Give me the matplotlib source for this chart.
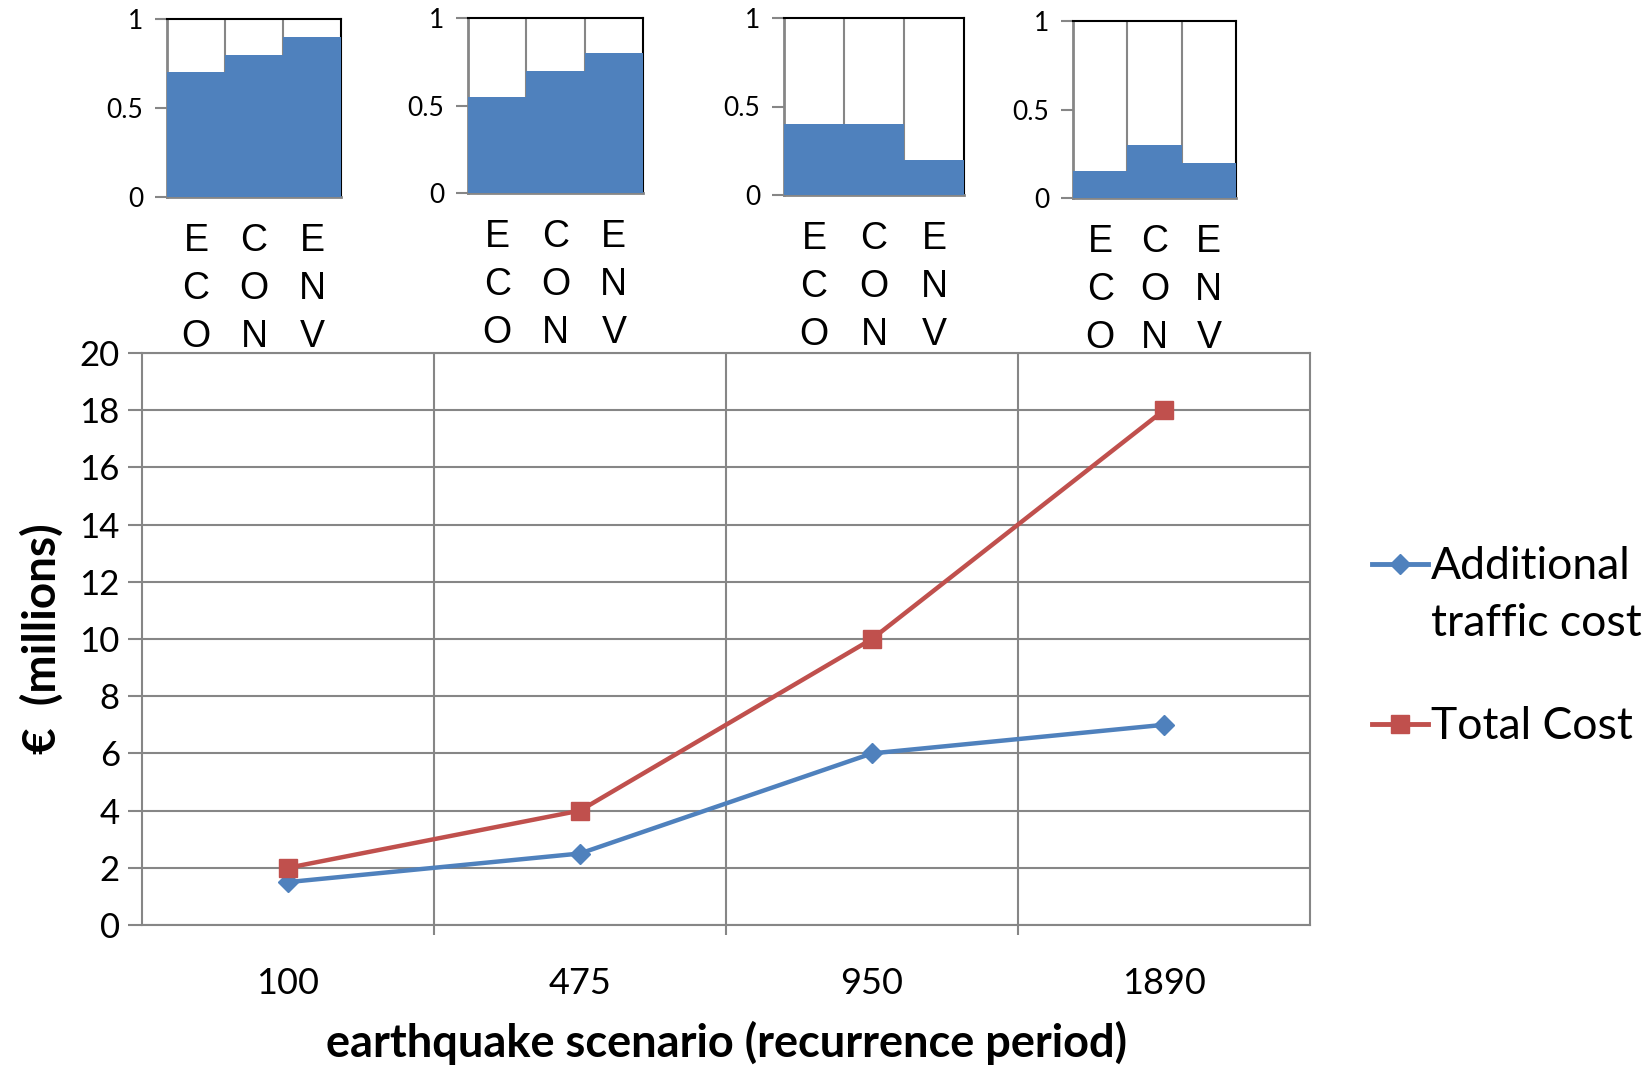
import numpy as np
import matplotlib
matplotlib.use("Agg")
import matplotlib.pyplot as plt
from matplotlib.lines import Line2D

# scenario data
scenarios = ["100", "475", "950", "1890"]
traffic_cost = [1.5, 2.5, 6.0, 7.0]
total_cost = [2.0, 4.0, 10.0, 18.0]

# share of each criterion per scenario (small bar charts on top)
criteria = ["E\nC\nO", "C\nO\nN", "E\nN\nV"]
share_100 = [0.7, 0.8, 0.9]
share_475 = [0.55, 0.7, 0.8]
share_950 = [0.4, 0.4, 0.2]
share_1890 = [0.15, 0.3, 0.2]

BLUE = "#4F81BD"
RED = "#C0504D"
GRID = "#868686"
W, H = 1652, 1067

plt.rcParams['font.family'] = ['Lato', 'DejaVu Sans']

fig = plt.figure(figsize=(W / 100, H / 100), dpi=100)


def px_box(x0, x1, y0, y1):
    # pixel box (top-left origin) -> figure fraction rect
    return [x0 / W, (H - y1) / H, (x1 - x0) / W, (y1 - y0) / H]


# main line chart
ax = fig.add_axes(px_box(142, 1310, 353, 925))
x = np.arange(len(scenarios))
ax.plot(x, traffic_cost, color=BLUE, lw=3.2, marker="D", ms=10, zorder=4)
ax.plot(x, total_cost, color=RED, lw=3.2, marker="s", ms=13, zorder=5)
ax.set_xlim(-0.5, 3.5)
ax.set_ylim(0, 20)
ax.set_yticks(np.arange(0, 21, 2))
ax.set_xticks(x)
ax.set_xticklabels(scenarios, fontsize=26)
ax.set_xticks([0.5, 1.5, 2.5], minor=True)
ax.tick_params(axis="x", which="major", length=0, pad=30)
ax.tick_params(axis="x", which="minor", length=7, width=1.5, color=GRID)
ax.tick_params(axis="y", length=10, width=1.5, color=GRID, labelsize=25, pad=6)
ax.grid(axis="y", color=GRID, lw=1.5)
ax.grid(axis="x", which="minor", color=GRID, lw=1.5)
ax.set_axisbelow(True)
for s in ax.spines.values():
    s.set_color(GRID)
    s.set_linewidth(1.5)
ax.set_xlabel("earthquake scenario (recurrence period)", fontsize=32.5,
              fontweight="bold", labelpad=15)
ax.set_ylabel("€  (millions)", fontsize=33, fontweight="bold", labelpad=11)

# legend on the right, handle level with the first text line
def legend_entry(y, color, marker, ms, text):
    fig.add_artist(Line2D([1372 / W, 1400 / W, 1428 / W], [1 - y / H] * 3,
                          transform=fig.transFigure, color=color, lw=3.5,
                          marker=marker, ms=ms, markevery=[1]))
    fig.text(1431 / W, 1 - (y - 18) / H, text, fontsize=32, va="top",
             ha="left", linespacing=1.48)

legend_entry(564, BLUE, "D", 10, "Additional\ntraffic cost")
legend_entry(724, RED, "s", 13, "Total Cost")

# criteria bars above each scenario
inset_boxes = [(167, 341, 19, 197), (468, 643, 18, 193),
               (784, 964, 18, 195), (1073, 1236, 21, 198)]
shares = [share_100, share_475, share_950, share_1890]
for box, vals in zip(inset_boxes, shares):
    iax = fig.add_axes(px_box(*box))
    pos = np.arange(len(criteria))
    iax.bar(pos, vals, width=1.0, color=BLUE, zorder=3)
    iax.set_xlim(-0.5, 2.5)
    iax.set_ylim(0, 1)
    iax.set_yticks([0, 0.5, 1])
    iax.set_yticklabels(["0", "0.5", "1"])
    iax.set_xticks([0.5, 1.5], minor=True)
    iax.grid(axis="x", which="minor", color=GRID, lw=1.5, zorder=1)
    iax.set_xticks([])
    iax.tick_params(axis="y", length=9, width=1.5, color=GRID, labelsize=19, pad=8)
    iax.tick_params(axis="x", which="minor", length=0)
    for side in ("left", "bottom"):
        iax.spines[side].set_color(GRID)
        iax.spines[side].set_linewidth(2)
    for side in ("top", "right"):
        iax.spines[side].set_color("black")
        iax.spines[side].set_linewidth(1.5)
    for p, lab in zip(pos, criteria):
        iax.annotate(lab, xy=(p, 0), xycoords=("data", "axes fraction"),
                     xytext=(0, -26), textcoords="offset pixels",
                     ha="center", va="top", fontsize=27,
                     family=["Liberation Sans", "DejaVu Sans"], linespacing=1.42)

fig.savefig("out.png", dpi=100)
